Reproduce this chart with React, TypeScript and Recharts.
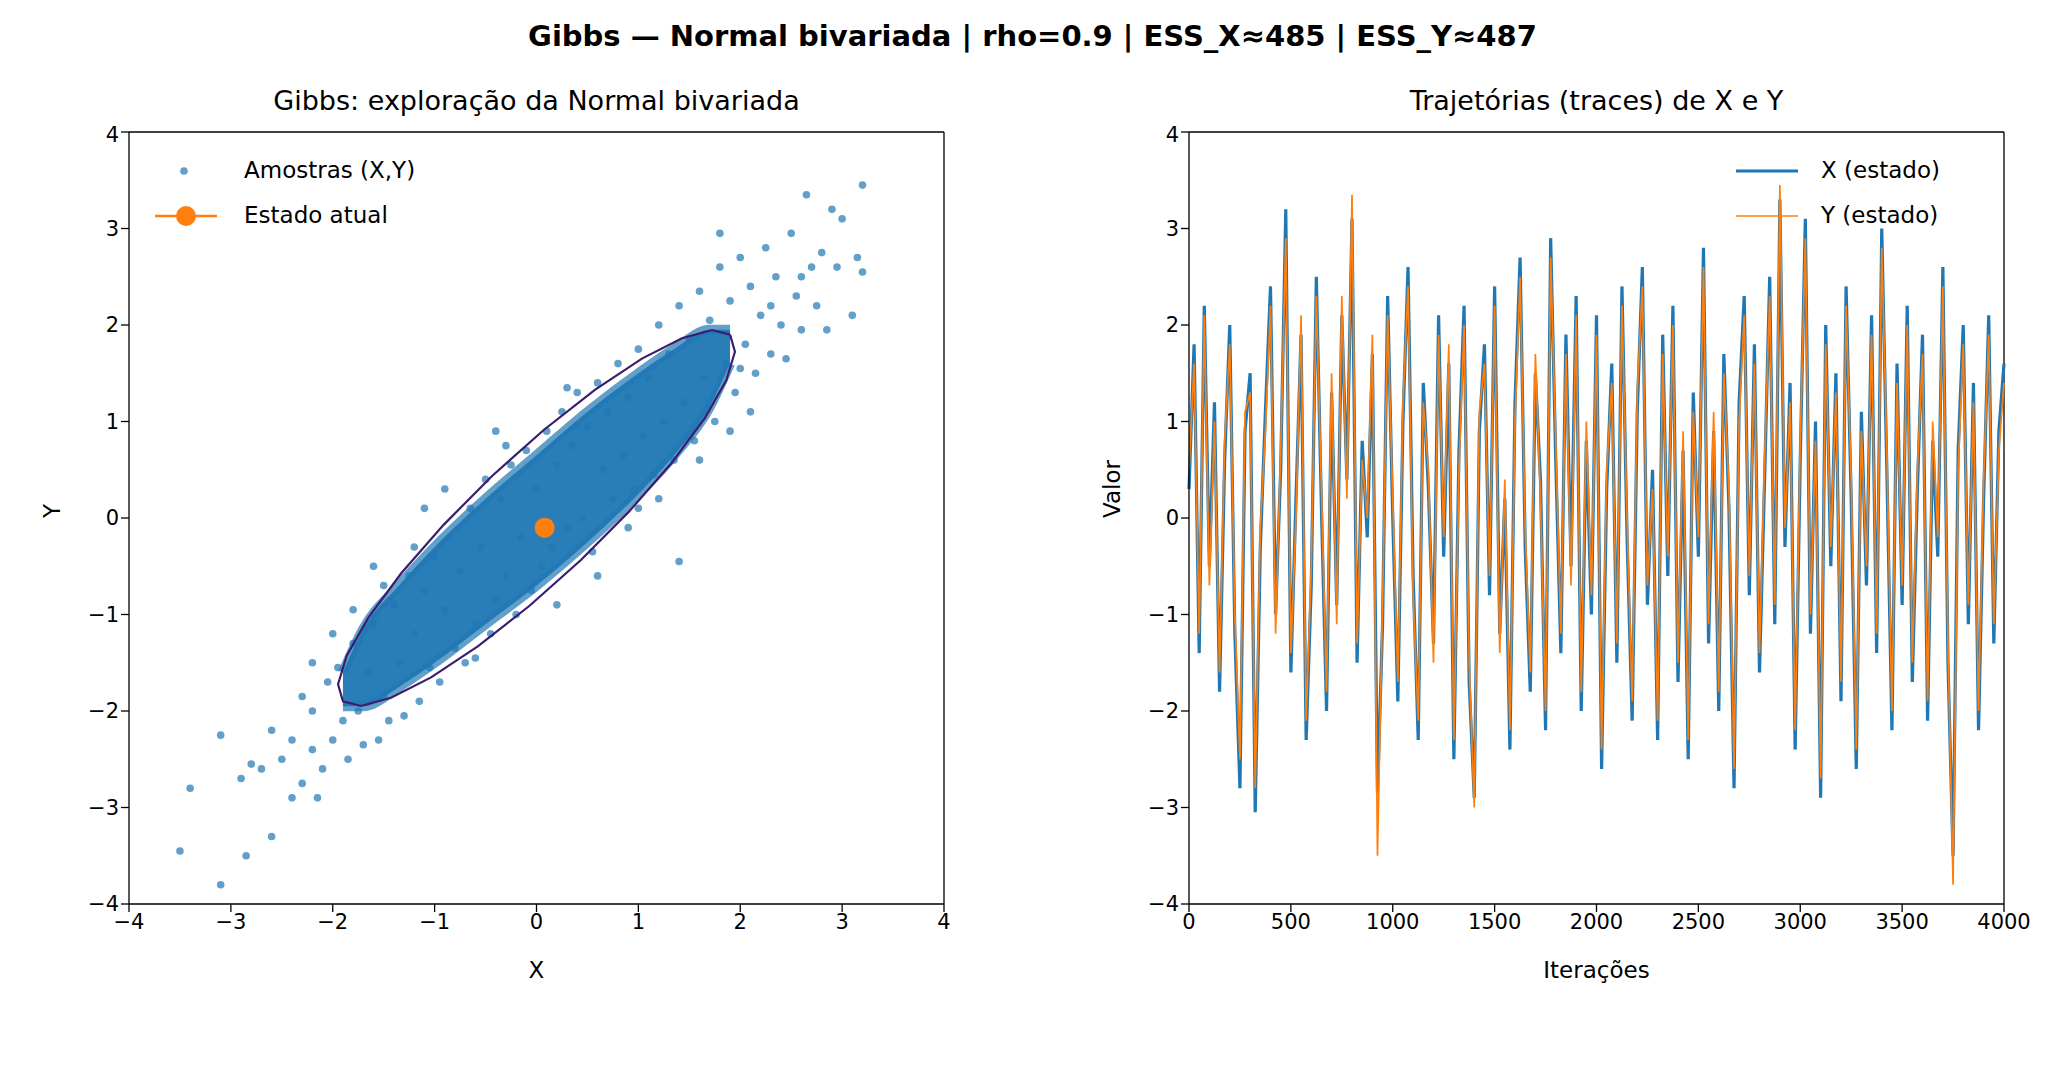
import React from 'react';
import {
  ComposedChart, LineChart, Line, Area, Scatter, XAxis, YAxis, ReferenceLine,
} from 'recharts';

const BLUE = '#1f77b4';
const ORANGE = '#ff7f0e';
const FONT = '"DejaVu Sans", sans-serif';

// Gibbs samples outside the dense core
const samplePts: [number, number][] = [
  [-3.5,-3.45],[-3.4,-2.8],[-3.1,-3.8],[-3.1,-2.25],[-2.9,-2.7],[-2.85,-3.5],[-2.8,-2.55],[-2.7,-2.6],[-2.6,-3.3],[-2.5,-2.5],
  [-2.4,-2.9],[-2.4,-2.3],[-2.3,-2.75],[-2.2,-2.4],[-2.2,-2.0],[-2.15,-2.9],[-2.1,-2.6],[-2.05,-1.7],[-2.0,-2.3],[-1.95,-1.55],
  [-1.9,-2.1],[-1.85,-2.5],[-1.8,-1.3],[-1.75,-2.0],[-1.7,-2.35],[-1.65,-1.6],[-1.6,-1.1],[-1.55,-2.3],[-1.5,-1.85],[-1.45,-2.1],
  [-1.4,-0.9],[-1.35,-1.5],[-1.3,-2.05],[-1.25,-0.6],[-1.2,-1.2],[-1.15,-1.9],[-1.1,-0.75],[-1.05,-1.55],[-1.0,-0.4],[-0.95,-1.7],
  [-0.9,-0.95],[-0.85,-0.2],[-0.8,-1.35],[-0.75,-0.55],[-0.7,-1.5],[-0.65,0.1],[-0.6,-1.1],[-0.55,-0.3],[-0.5,0.4],[-0.45,-1.2],
  [-0.4,-0.85],[-0.35,0.2],[-0.3,-0.6],[-0.25,0.55],[-0.2,-1.0],[-0.15,-0.2],[-0.1,0.7],[-0.05,-0.75],[0,0.3],[0.05,-0.5],
  [0.1,0.9],[0.15,-0.3],[0.2,0.55],[0.25,1.1],[0.3,-0.1],[0.35,0.75],[0.4,1.3],[0.45,0.0],[0.5,0.95],[0.55,-0.35],
  [0.6,1.4],[0.65,0.5],[0.7,1.1],[0.75,0.2],[0.8,1.6],[0.85,0.65],[0.9,1.25],[0.95,0.3],[1.0,1.75],[1.05,0.85],
  [1.1,1.45],[1.15,0.45],[1.2,2.0],[1.25,1.0],[1.3,1.7],[1.35,0.6],[1.4,-0.45],[1.4,2.2],[1.45,1.2],[1.5,1.85],
  [1.55,0.8],[1.6,2.35],[1.65,1.45],[1.7,2.05],[1.75,1.0],[1.8,2.6],[1.85,1.6],[1.9,2.25],[1.95,1.3],[2.0,2.7],
  [2.05,1.8],[2.1,2.4],[2.15,1.5],[2.2,2.1],[2.25,2.8],[2.3,1.7],[2.35,2.5],[2.4,2.0],[2.45,1.65],[2.5,2.95],
  [2.55,2.3],[2.6,1.95],[2.65,3.35],[2.7,2.6],[2.75,2.2],[2.8,2.75],[2.85,1.95],[2.9,3.2],[2.95,2.6],[3.0,3.1],
  [3.1,2.1],[3.15,2.7],[3.2,2.55],[3.2,3.45],[2.6,2.5],[2.3,2.2],[2.0,1.55],[-2.6,-2.2],[-2.3,-1.85],[-1.2,-0.3],
  [1.2,0.2],[0.9,-0.1],[-0.9,0.3],[-1.8,-0.95],[1.8,2.95],[-1.5,-0.7],[-0.3,0.75],[0.3,1.35],[1.0,0.1],[-0.6,-1.45],
  [-2.0,-1.2],[-1.6,-0.5],[-0.4,0.9],[0.6,-0.6],[1.6,0.6],[2.1,1.1],[-2.2,-1.5],[1.9,0.9],[-1.1,0.1],[0.2,-0.9],
];

// dense core of the cloud: lower / upper y for given x
const coreX = [-1.9, -1.7, -1.35, -1.0, -0.5, 0, 0.5, 1.0, 1.35, 1.7, 1.9];
const coreLo = [-1.95, -1.95, -1.75, -1.5, -1.1, -0.7, -0.25, 0.25, 0.65, 1.15, 1.6];
const coreHi = [-1.6, -1.15, -0.7, -0.3, 0.2, 0.65, 1.1, 1.5, 1.75, 1.95, 1.95];

// contour ellipse points
const ellipseX = [1.9,1.723,1.428,1.035,0.573,0.071,-0.436,-0.912,-1.328,-1.652,-1.863,-1.948,-1.9,-1.723,-1.428,-1.035,-0.573,-0.071,0.436,0.912,1.328,1.652,1.863,1.948,1.9];
const ellipseY = [1.9,1.948,1.863,1.652,1.328,0.912,0.436,-0.071,-0.573,-1.035,-1.428,-1.723,-1.9,-1.948,-1.863,-1.652,-1.328,-0.912,-0.436,0.071,0.573,1.035,1.428,1.723,1.9];

const currentState = { x: 0.08, y: -0.1 };

// traces, one value every 25 iterations
const traceX = [
  0.3,1.8,-1.4,2.2,-0.5,1.2,-1.8,0.6,2.0,-1.2,-2.8,0.9,1.5,-3.05,-0.3,1.1,2.4,-1.0,0.5,3.2,
  -1.6,0.2,1.9,-2.3,-0.7,2.5,0.1,-2.0,1.3,-0.9,2.1,0.4,3.1,-1.5,0.8,-0.2,1.7,-2.85,-1.1,2.3,
  0.0,-1.9,1.0,2.6,-0.6,-2.3,1.4,0.3,-1.3,2.1,-0.4,1.6,-2.5,0.7,2.2,-1.7,-2.9,0.9,1.8,-0.8,
  2.4,-1.2,0.2,-2.4,1.2,2.7,-0.3,-1.8,1.5,0.4,-2.2,2.9,0.6,-1.4,1.9,-0.5,2.3,-2.0,0.8,-1.0,
  2.1,-2.6,0.3,1.6,-1.5,2.4,-0.2,-2.1,1.1,2.6,-0.9,0.5,-2.3,1.9,-0.6,2.2,-1.7,0.7,-2.5,1.3,
  -0.4,2.8,-1.3,0.9,-2.0,1.7,0.1,-2.8,1.2,2.3,-0.8,1.8,-1.6,0.4,2.5,-1.1,3.3,-0.3,1.4,-2.4,
  0.6,3.1,-1.2,1.0,-2.9,2.0,-0.5,1.5,-1.9,2.4,0.2,-2.6,1.1,-0.7,2.1,-1.4,3.0,0.5,-2.2,1.6,
  -0.9,2.2,-1.7,0.3,1.9,-2.1,0.8,-0.4,2.6,-1.5,-3.5,0.7,2.0,-1.1,1.4,-2.2,0.2,2.1,-1.3,0.9,1.6,
];
const traceY = [
  0.5,1.6,-1.2,2.1,-0.7,1.0,-1.6,0.8,1.8,-1.0,-2.5,1.1,1.3,-2.8,-0.1,0.9,2.2,-1.2,0.7,2.9,
  -1.4,0.0,2.1,-2.1,-0.5,2.3,0.3,-1.8,1.5,-1.1,2.3,0.2,3.35,-1.3,0.6,0.0,1.9,-3.5,-0.9,2.1,
  0.2,-1.7,1.2,2.4,-0.8,-2.1,1.2,0.5,-1.5,1.9,-0.2,1.8,-2.3,0.5,2.0,-1.5,-3.0,1.1,1.6,-0.6,
  2.2,-1.4,0.4,-2.2,1.0,2.5,-0.1,-1.6,1.7,0.2,-2.0,2.7,0.8,-1.2,1.7,-0.7,2.1,-1.8,1.0,-0.8,
  1.9,-2.4,0.5,1.4,-1.3,2.2,0.0,-1.9,1.3,2.4,-0.7,0.3,-2.1,1.7,-0.4,2.0,-1.5,0.9,-2.3,1.1,
  -0.2,2.6,-1.1,1.1,-1.8,1.5,0.3,-2.6,1.0,2.1,-0.6,1.6,-1.4,0.6,2.3,-0.9,3.45,-0.1,1.2,-2.2,
  0.8,2.9,-1.0,0.8,-2.7,1.8,-0.3,1.3,-1.7,2.2,0.4,-2.4,0.9,-0.5,1.9,-1.2,2.8,0.7,-2.0,1.4,
  -0.7,2.0,-1.5,0.5,1.7,-1.9,1.0,-0.2,2.4,-1.3,-3.8,0.5,1.8,-0.9,1.2,-2.0,0.4,1.9,-1.1,0.7,1.4,
];

const scatterData = samplePts.map(([x, y]) => ({ x, y }));
const coreData = coreX.map((x, i) => ({ x, band: [coreLo[i], coreHi[i]] }));
const ellipseData = ellipseX.map((x, i) => ({ x, y: ellipseY[i] }));
const traceData = traceX.map((v, i) => ({ it: i * 25, x: v, y: traceY[i] }));

const fmt = (v: number) => String(v).replace('-', '\u2212');
const tickStyle = { fill: '#000', fontSize: 21, fontFamily: FONT };
const axisLine = { stroke: '#000', strokeWidth: 1.3 };
const labelStyle = { fill: '#000', fontSize: 23, fontFamily: FONT };

const abs = (left: number, top: number): React.CSSProperties => ({ position: 'absolute', left, top });
const txt = (left: number, top: number, size = 23, extra: React.CSSProperties = {}): React.CSSProperties => ({
  ...abs(left, top), fontFamily: FONT, fontSize: size, color: '#000', lineHeight: 1, whiteSpace: 'nowrap', ...extra,
});

export default function App() {
  return (
    <div style={{ position: 'absolute', left: 0, top: 0, width: 2065, height: 1090, background: '#fff' }}>
      <div style={txt(0, 22, 29, { width: 2065, textAlign: 'center', fontWeight: 'bold' })}>
        Gibbs — Normal bivariada | rho=0.9 | ESS_X≈485 | ESS_Y≈487
      </div>
      <div style={txt(129, 87, 27, { width: 815, textAlign: 'center' })}>Gibbs: exploração da Normal bivariada</div>
      <div style={txt(1189, 87, 27, { width: 815, textAlign: 'center' })}>Trajetórias (traces) de X e Y</div>

      <div style={abs(34, 122)}>
        <ComposedChart width={920} height={870} data={coreData} margin={{ top: 10, right: 10, bottom: 0, left: 0 }}>
          <XAxis dataKey="x" type="number" domain={[-4, 4]} ticks={[-4,-3,-2,-1,0,1,2,3,4]} allowDataOverflow
            tickFormatter={fmt} tick={tickStyle} axisLine={axisLine} tickLine={axisLine} tickSize={8} height={88}
            label={{ value: 'X', position: 'insideBottom', offset: 14, style: labelStyle }} />
          <YAxis dataKey="y" type="number" domain={[-4, 4]} ticks={[-4,-3,-2,-1,0,1,2,3,4]} allowDataOverflow
            tickFormatter={fmt} tick={tickStyle} axisLine={axisLine} tickLine={axisLine} tickSize={8} width={95}
            label={{ value: 'Y', angle: -90, position: 'insideLeft', offset: 18, style: labelStyle }} />
          <ReferenceLine x={4} stroke="#000" strokeWidth={1.3} />
          <ReferenceLine y={4} stroke="#000" strokeWidth={1.3} />
          <Area dataKey="band" type="monotone" stroke={BLUE} strokeWidth={10} strokeOpacity={0.7}
            fill={BLUE} fillOpacity={0.95} isAnimationActive={false} />
          <Scatter data={scatterData} fill={BLUE} fillOpacity={0.7} isAnimationActive={false}
            shape={(p: any) => <circle cx={p.cx} cy={p.cy} r={3.8} fill={BLUE} fillOpacity={0.7} />} />
          <Scatter data={ellipseData} line={{ stroke: '#3b1c6e', strokeWidth: 2.2 }} shape={() => null}
            isAnimationActive={false} />
          <Scatter data={[currentState]} isAnimationActive={false}
            shape={(p: any) => <circle cx={p.cx} cy={p.cy} r={10} fill={ORANGE} />} />
        </ComposedChart>
      </div>

      <div style={abs(1094, 122)}>
        <LineChart width={950} height={870} data={traceData} margin={{ top: 10, right: 40, bottom: 0, left: 0 }}>
          <XAxis dataKey="it" type="number" domain={[0, 4000]} ticks={[0,500,1000,1500,2000,2500,3000,3500,4000]}
            tick={tickStyle} axisLine={axisLine} tickLine={axisLine} tickSize={8} height={88}
            label={{ value: 'Iterações', position: 'insideBottom', offset: 14, style: labelStyle }} />
          <YAxis type="number" domain={[-4, 4]} ticks={[-4,-3,-2,-1,0,1,2,3,4]} allowDataOverflow
            tickFormatter={fmt} tick={tickStyle} axisLine={axisLine} tickLine={axisLine} tickSize={8} width={95}
            label={{ value: 'Valor', angle: -90, position: 'insideLeft', offset: 18, style: labelStyle }} />
          <ReferenceLine x={4000} stroke="#000" strokeWidth={1.3} />
          <ReferenceLine y={4} stroke="#000" strokeWidth={1.3} />
          <Line dataKey="x" stroke={BLUE} strokeWidth={3.2} dot={false} isAnimationActive={false} />
          <Line dataKey="y" stroke={ORANGE} strokeWidth={1.7} dot={false} isAnimationActive={false} />
        </LineChart>
      </div>

      {/* legends */}
      <svg style={abs(150, 155)} width={70} height={75}>
        <circle cx={34} cy={16} r={3.8} fill={BLUE} fillOpacity={0.7} />
        <line x1={5} x2={67} y1={61} y2={61} stroke={ORANGE} strokeWidth={2.6} />
        <circle cx={36} cy={61} r={10} fill={ORANGE} />
      </svg>
      <div style={txt(244, 159)}>Amostras (X,Y)</div>
      <div style={txt(244, 204)}>Estado atual</div>

      <svg style={abs(1730, 155)} width={75} height={75}>
        <line x1={6} x2={68} y1={16} y2={16} stroke={BLUE} strokeWidth={3.2} />
        <line x1={6} x2={68} y1={61} y2={61} stroke={ORANGE} strokeWidth={1.7} />
      </svg>
      <div style={txt(1821, 159)}>X (estado)</div>
      <div style={txt(1821, 204)}>Y (estado)</div>
    </div>
  );
}
